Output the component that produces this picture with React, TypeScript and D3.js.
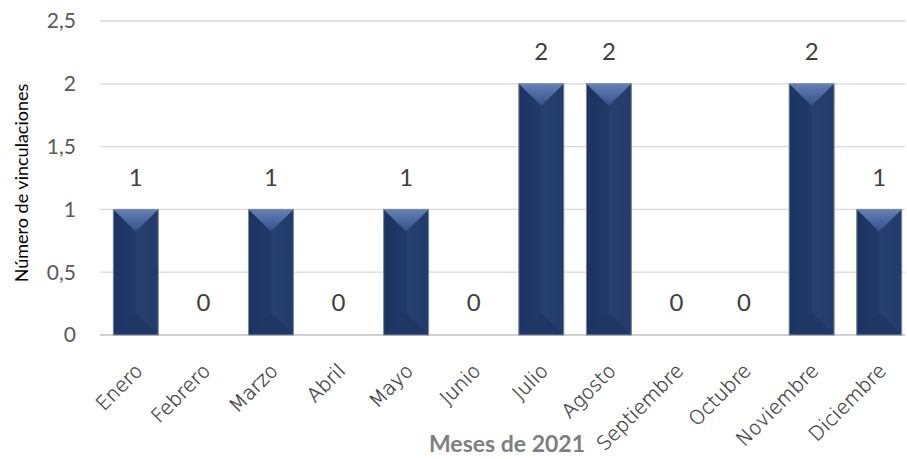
import React from "react";
import * as d3 from "d3";

const months = ["Enero","Febrero","Marzo","Abril","Mayo","Junio","Julio","Agosto","Septiembre","Octubre","Noviembre","Diciembre"];
const values = [1,0,1,0,1,0,2,2,0,0,2,1];
const yTicks = [0,0.5,1,1.5,2,2.5];
const yTitle = "Número de vinculaciones";
const xTitle = "Meses de 2021";

const W = 907, H = 459;
const FONT = "Lato, 'Open Sans', sans-serif";
const WIDE = "'DejaVu Sans', sans-serif";

export default function App() {
  const x = d3.scaleBand<string>().domain(months).range([102, 913]).paddingInner(0.335).paddingOuter(0.1675);
  const y = d3.scaleLinear().domain([0, 2.5]).range([335, 21]);
  const fmt = (v: number) => String(v).replace(".", ",");
  const bw = x.bandwidth();
  return (
    <svg width={W} height={H} style={{ position: "absolute", left: 0, top: 0, background: "#fff" }}>
      <defs>
        <linearGradient id="topG" x1="0" y1="0" x2="0" y2="1">
          <stop offset="0" stopColor="#6381b5" />
          <stop offset="1" stopColor="#34528a" />
        </linearGradient>
        <linearGradient id="leftG" x1="0" y1="0" x2="1" y2="0">
          <stop offset="0" stopColor="#1c3360" />
          <stop offset="1" stopColor="#213a69" />
        </linearGradient>
        <linearGradient id="rightG" x1="0" y1="0" x2="1" y2="0">
          <stop offset="0" stopColor="#253f70" />
          <stop offset="1" stopColor="#223b6a" />
        </linearGradient>
      </defs>
      {yTicks.map(t => (
        <g key={t}>
          <line x1={100} x2={905} y1={y(t)} y2={y(t)} stroke={t === 0 ? "#d0d0d0" : "#d9d9d9"} strokeWidth={t === 0 ? 2 : 1.3} />
          <text x={76} y={y(t)} dy="0.35em" textAnchor="end" fontFamily={FONT} fontSize={21} fill="#595959">{fmt(t)}</text>
        </g>
      ))}
      {months.map((m, i) => {
        const v = values[i];
        const x0 = x(m)!;
        const x1 = x0 + bw;
        const cx = x0 + bw / 2;
        const yt = y(v);
        const yb = y(0);
        const d = 22;
        return (
          <g key={m}>
            {v > 0 && (
              <g>
                <rect x={x0} y={yt} width={bw} height={yb - yt} fill="#223a69" />
                <polygon points={`${x0},${yt} ${cx},${yt + d} ${cx},${yb - d} ${x0},${yb}`} fill="url(#leftG)" />
                <polygon points={`${x1},${yt} ${cx},${yt + d} ${cx},${yb - d} ${x1},${yb}`} fill="url(#rightG)" />
                <polygon points={`${x0},${yb} ${cx},${yb - d} ${x1},${yb}`} fill="#1f3764" />
                <polygon points={`${x0},${yt} ${x1},${yt} ${cx},${yt + d}`} fill="url(#topG)" />
                <rect x={x0} y={yt} width={bw} height={yb - yt} fill="none" stroke="#7f8ca3" strokeWidth={1} />
              </g>
            )}
            <text x={cx} y={yt - 32} dy="0.35em" textAnchor="middle" fontFamily={FONT} fontSize={24} fill="#404040">{v}</text>
            <text transform={`translate(${cx + 8},${372}) rotate(-45)`} textAnchor="end" fontFamily={WIDE} fontWeight={200} fontSize={19.5} fill="#404040" stroke="#404040" strokeWidth={0.35}>{m}</text>
          </g>
        );
      })}
      <text transform={`translate(28,183) rotate(-90)`} textAnchor="middle" fontFamily={FONT} fontSize={18} fill="#000">{yTitle}</text>
      <text x={507} y={452} textAnchor="middle" fontFamily={FONT} fontSize={23} fontWeight="bold" fill="#7f7f7f">{xTitle}</text>
    </svg>
  );
}
